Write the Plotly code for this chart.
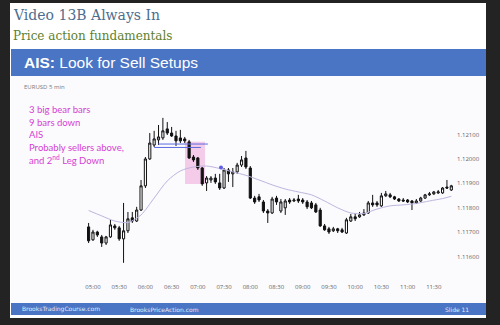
import plotly.graph_objects as go
import pandas as pd

# ---------------- data ----------------
bar_start = "2019-09-12 04:55"
opens = [1.11722, 1.11669, 1.11701, 1.11681, 1.11656, 1.11681, 1.11726, 1.11718, 1.11673, 1.11706,
         1.11759, 1.11746, 1.11791, 1.11890, 1.12000, 1.12057, 1.12078, 1.12086, 1.12123, 1.12106,
         1.12094, 1.12086, 1.12082, 1.12070, 1.12008, 1.12004, 1.11963, 1.11902, 1.11914, 1.11922,
         1.11902, 1.11881, 1.11955, 1.11939, 1.11947, 1.11975, 1.12004, 1.11963, 1.11840, 1.11845,
         1.11824, 1.11787, 1.11779, 1.11840, 1.11787, 1.11800, 1.11832, 1.11828, 1.11836, 1.11832,
         1.11824, 1.11820, 1.11812, 1.11791, 1.11726, 1.11714, 1.11706, 1.11714, 1.11710, 1.11697,
         1.11746, 1.11763, 1.11763, 1.11771, 1.11779, 1.11820, 1.11820, 1.11808, 1.11849, 1.11853,
         1.11845, 1.11836, 1.11832, 1.11832, 1.11828, 1.11820, 1.11828, 1.11840, 1.11853, 1.11857,
         1.11861, 1.11861, 1.11885, 1.11873]
highs = [1.11738, 1.11710, 1.11706, 1.11689, 1.11685, 1.11751, 1.11734, 1.11726, 1.11820, 1.11783,
         1.11783, 1.11804, 1.11914, 1.12008, 1.12106, 1.12115, 1.12139, 1.12168, 1.12151, 1.12131,
         1.12115, 1.12119, 1.12090, 1.12078, 1.12016, 1.12008, 1.11967, 1.11930, 1.11930, 1.11939,
         1.11939, 1.11963, 1.11963, 1.11963, 1.11984, 1.12012, 1.12033, 1.11971, 1.11849, 1.11857,
         1.11832, 1.11795, 1.11845, 1.11849, 1.11836, 1.11836, 1.11840, 1.11840, 1.11853, 1.11840,
         1.11832, 1.11828, 1.11820, 1.11800, 1.11734, 1.11722, 1.11722, 1.11718, 1.11718, 1.11759,
         1.11775, 1.11779, 1.11783, 1.11795, 1.11828, 1.11853, 1.11828, 1.11861, 1.11869, 1.11861,
         1.11849, 1.11840, 1.11840, 1.11836, 1.11832, 1.11836, 1.11845, 1.11857, 1.11865, 1.11869,
         1.11873, 1.11885, 1.11914, 1.11894]
lows = [1.11656, 1.11665, 1.11681, 1.11640, 1.11648, 1.11677, 1.11710, 1.11665, 1.11575, 1.11697,
        1.11738, 1.11742, 1.11787, 1.11881, 1.11996, 1.12049, 1.12057, 1.12078, 1.12098, 1.12090,
        1.12053, 1.12065, 1.12065, 1.12000, 1.11988, 1.11955, 1.11890, 1.11869, 1.11902, 1.11898,
        1.11873, 1.11877, 1.11906, 1.11885, 1.11939, 1.11967, 1.11959, 1.11836, 1.11816, 1.11824,
        1.11779, 1.11738, 1.11775, 1.11812, 1.11779, 1.11771, 1.11816, 1.11824, 1.11820, 1.11816,
        1.11795, 1.11795, 1.11779, 1.11722, 1.11706, 1.11693, 1.11701, 1.11697, 1.11697, 1.11693,
        1.11742, 1.11746, 1.11759, 1.11767, 1.11775, 1.11804, 1.11804, 1.11804, 1.11845, 1.11840,
        1.11832, 1.11824, 1.11824, 1.11820, 1.11791, 1.11816, 1.11824, 1.11836, 1.11849, 1.11853,
        1.11857, 1.11857, 1.11877, 1.11869]
closes = [1.11665, 1.11701, 1.11689, 1.11656, 1.11681, 1.11730, 1.11718, 1.11673, 1.11706, 1.11755,
          1.11746, 1.11791, 1.11890, 1.12000, 1.12065, 1.12082, 1.12090, 1.12115, 1.12106, 1.12094,
          1.12074, 1.12074, 1.12074, 1.12004, 1.11996, 1.11963, 1.11898, 1.11922, 1.11922, 1.11906,
          1.11881, 1.11955, 1.11939, 1.11947, 1.11975, 1.11996, 1.11967, 1.11840, 1.11824, 1.11832,
          1.11787, 1.11779, 1.11836, 1.11824, 1.11824, 1.11828, 1.11824, 1.11832, 1.11828, 1.11824,
          1.11804, 1.11800, 1.11783, 1.11726, 1.11710, 1.11701, 1.11714, 1.11706, 1.11701, 1.11751,
          1.11763, 1.11755, 1.11771, 1.11779, 1.11820, 1.11812, 1.11812, 1.11849, 1.11857, 1.11845,
          1.11836, 1.11828, 1.11828, 1.11824, 1.11820, 1.11828, 1.11840, 1.11853, 1.11857, 1.11865,
          1.11865, 1.11881, 1.11881, 1.11890]

ema_bar_index = [0, 3, 6, 9, 12, 15, 18, 21, 24, 27, 30, 33, 36, 39, 42, 45, 48, 51, 54, 57,
                 60, 63, 66, 69, 72, 75, 78, 81, 83]
ema_values = [1.11789, 1.11767, 1.11746, 1.11740, 1.11771, 1.11840, 1.11910, 1.11951, 1.11967, 1.11971,
              1.11961, 1.11947, 1.11933, 1.11914, 1.11894, 1.11877, 1.11865, 1.11853, 1.11828, 1.11800,
              1.11779, 1.11777, 1.11795, 1.11808, 1.11812, 1.11818, 1.11828, 1.11838, 1.11847]

x_tick_labels = ["05:00", "05:30", "06:00", "06:30", "07:00", "07:30", "08:00",
                 "08:30", "09:00", "09:30", "10:00", "10:30", "11:00", "11:30"]
y_tick_values = [1.116, 1.117, 1.118, 1.119, 1.120, 1.121]
note_lines = ["3 big bear bars", "9 bars down", "AIS", "Probably sellers above,",
              "and 2<sup>nd</sup> Leg Down"]
title_text = "Video 13B Always In"
subtitle_text = "Price action fundamentals"
banner_text = "<b>AIS:</b> Look for Sell Setups"
symbol_text = "EURUSD 5 min"
footer_left = "BrooksTradingCourse.com"
footer_mid = "BrooksPriceAction.com"
footer_right = "Slide 11"

# ---------------- layout helpers ----------------
W, H = 500, 325
times = pd.date_range(bar_start, periods=len(opens), freq="5min")
base = times[0]
day = bar_start.split(" ")[0]
x_tick_vals = [f"{day} {lab}" for lab in x_tick_labels]


def t_at(i):
    return str(base + pd.Timedelta(minutes=5 * i))


def px(x):
    return x / W


def py(y):
    return 1 - y / H


BAR_X0, BAR_DX = 88.6, 4.37
PLOT_L, PLOT_R, PLOT_T, PLOT_B = 20, 456, 100, 282
x_range = [t_at((PLOT_L - BAR_X0) / BAR_DX), t_at((PLOT_R - BAR_X0) / BAR_DX)]
y_range = [1.114965, 1.122412]

fig = go.Figure()

fig.add_trace(go.Scatter(
    x=[times[i] for i in ema_bar_index], y=ema_values, mode="lines",
    line=dict(color="#bdb5de", width=1, shape="spline", smoothing=0.8),
    hoverinfo="skip", showlegend=False))

fig.add_trace(go.Candlestick(
    x=times, open=opens, high=highs, low=lows, close=closes,
    increasing=dict(line=dict(color="#111111", width=1), fillcolor="#ffffff"),
    decreasing=dict(line=dict(color="#111111", width=1), fillcolor="#111111"),
    whiskerwidth=0, showlegend=False))

# blue dot above signal bar
fig.add_trace(go.Scatter(
    x=[t_at(30.3)], y=[1.11965], mode="markers",
    marker=dict(color="#5b5de8", size=4), showlegend=False, hoverinfo="skip"))

shapes = []
shapes.append(dict(type="rect", xref="paper", yref="paper", x0=px(10), x1=px(486),
                   y0=py(318), y1=py(3), fillcolor="#ffffff", line_width=0, layer="below"))
shapes.append(dict(type="rect", xref="paper", yref="paper", x0=px(11), x1=px(486),
                   y0=py(303), y1=py(76), fillcolor="#fbfafd", line_width=0, layer="below"))
shapes.append(dict(type="rect", xref="paper", yref="paper", x0=px(11), x1=px(486),
                   y0=py(76), y1=py(49), fillcolor="#4a74c4", line_width=0, layer="below"))
shapes.append(dict(type="rect", xref="paper", yref="paper", x0=px(11), x1=px(486),
                   y0=py(315), y1=py(303), fillcolor="#4a74c4", line_width=0, layer="below"))
shapes.append(dict(type="rect", xref="x", yref="y", x0=t_at(22.06), x1=t_at(26.64),
                   y0=1.118977, y1=1.120708, fillcolor="#f4cbe8", line_width=0, layer="below"))
shapes.append(dict(type="line", xref="x", yref="y", x0=t_at(15.9), x1=t_at(27.3),
                   y0=1.12061, y1=1.12061, line=dict(color="#5a6be0", width=1)))
shapes.append(dict(type="line", xref="x", yref="y", x0=t_at(15.0), x1=t_at(25.7),
                   y0=1.12047, y1=1.12047, line=dict(color="#5a6be0", width=1)))

ann = []
ann.append(dict(text=title_text, x=px(11), y=py(15), xref="paper", yref="paper",
                xanchor="left", yanchor="middle", showarrow=False,
                font=dict(family="DejaVu Serif", size=14, color="#4d6d8e")))
ann.append(dict(text=subtitle_text, x=px(11), y=py(36), xref="paper", yref="paper",
                xanchor="left", yanchor="middle", showarrow=False,
                font=dict(family="DejaVu Serif", size=12, color="#5d7f2e")))
ann.append(dict(text=banner_text, x=px(22), y=py(62), xref="paper", yref="paper",
                xanchor="left", yanchor="middle", showarrow=False,
                font=dict(family="Liberation Sans", size=15.5, color="#ffffff")))
ann.append(dict(text=symbol_text, x=px(22), y=py(87.5), xref="paper", yref="paper",
                xanchor="left", yanchor="middle", showarrow=False,
                font=dict(family="Open Sans", size=6, color="#7a7a7a")))
for k, line in enumerate(note_lines):
    ann.append(dict(text=line, x=px(27), y=py(109.5 + 12.6 * k), xref="paper", yref="paper",
                    xanchor="left", yanchor="middle", showarrow=False,
                    font=dict(family="Lato", size=9.5, color="#d53fd3")))
for txt, x0 in [(footer_left, 20), (footer_mid, 128), (footer_right, 443)]:
    ann.append(dict(text=txt, x=px(x0), y=py(309), xref="paper", yref="paper",
                    xanchor="left", yanchor="middle", showarrow=False,
                    font=dict(family="DejaVu Sans", size=6, color="#e4eaf7")))

fig.update_layout(
    width=W, height=H, margin=dict(l=0, r=0, t=0, b=0),
    paper_bgcolor="#232323", plot_bgcolor="rgba(0,0,0,0)",
    shapes=shapes, annotations=ann, showlegend=False,
    xaxis=dict(type="date", domain=[px(PLOT_L), px(PLOT_R)], range=x_range,
               rangeslider=dict(visible=False), showgrid=False, zeroline=False,
               showline=False, ticks="", tickvals=x_tick_vals, ticktext=x_tick_labels,
               tickfont=dict(family="Open Sans", size=6, color="#666666")),
    yaxis=dict(domain=[py(PLOT_B), py(PLOT_T)], range=y_range, side="right",
               showgrid=False, zeroline=False, showline=False, ticks="",
               tickvals=y_tick_values, tickformat=".5f",
               tickfont=dict(family="Open Sans", size=6, color="#666666")),
)

fig.write_html("out.html")
